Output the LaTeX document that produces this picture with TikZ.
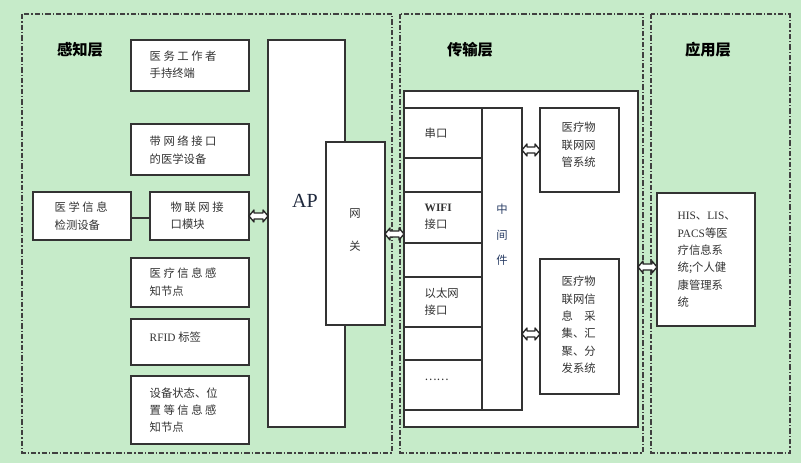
\documentclass[tikz,border=0pt]{standalone}
\usepackage{fontspec}
\setmainfont{Liberation Serif}
\newfontfamily\cjk{Noto Sans CJK SC}
\usetikzlibrary{arrows.meta}
\newcommand\myDArrow[3]{%
  \draw[dblarrow] (#1,#3) -- (#1+5,#3-6) -- (#1+5,#3-3) -- (#2-5,#3-3) -- (#2-5,#3-6) -- (#2,#3)
    -- (#2-5,#3+6) -- (#2-5,#3+3) -- (#1+5,#3+3) -- (#1+5,#3+6) -- cycle;}
\begin{document}
\begin{tikzpicture}[x=0.75pt,y=-0.75pt,
  layer/.style={draw=black!75,line width=1pt,dash pattern=on 4pt off 1.5pt on 1pt off 1.5pt},
  box/.style={draw=black!80,fill=white,line width=1pt},
  txt/.style={font=\cjk\fontsize{8.5}{13}\selectfont,align=left,text=black!80},
  ttl/.style={font=\cjk\bfseries\fontsize{11.5}{13}\selectfont},
  dblarrow/.style={draw=black!85,fill=white,line width=1pt,line join=round}]
\useasboundingbox (0,0) rectangle (801,463);
\fill[fill={rgb,255:red,198;green,235;blue,201}] (0,0) rectangle (801,463);
\draw[layer] (22,14) rectangle (392,453);
\draw[layer] (400,14) rectangle (643,453);
\draw[layer] (651,14) rectangle (790,453);
\node[ttl] (t1) at (80,50) {感知层};
\node[ttl] (t2) at (470,50) {传输层};
\node[ttl] (t3) at (708,50) {应用层};
% left
\draw[box] (131,40) rectangle (249,91);
\node[txt,anchor=west] (b1) at (145,65) {医 务 工 作 者\\手持终端};
\draw[box] (131,124) rectangle (249,175);
\node[txt,anchor=west] (b2) at (145,150) {带 网 络 接 口\\的医学设备};
\draw[box] (33,192) rectangle (131,240);
\node[txt,anchor=west] (b3) at (50,216) {医 学 信 息\\检测设备};
\draw[box] (150,192) rectangle (249,240);
\node[txt,anchor=west] (b4) at (166,216) {物 联 网 接\\口模块};
\draw[black!80,line width=1pt] (131,218) -- (150,218);
\draw[box] (131,258) rectangle (249,307);
\node[txt,anchor=west] (b5) at (145,282) {医 疗 信 息 感\\知节点};
\draw[box] (131,319) rectangle (249,365);
\node[txt,anchor=west] (b6) at (145,337) {\fontspec{Liberation Serif}RFID {\cjk 标签}};
\draw[box] (131,376) rectangle (249,444);
\node[txt,anchor=west] (b7) at (145,410) {设备状态、位\\置 等 信 息 感\\知节点};
\draw[box] (268,40) rectangle (345,427);
\node[font=\fontsize{15}{15}\selectfont,text={rgb,255:red,30;green,40;blue,60}] (ap) at (305,201) {AP};
\draw[box] (326,142) rectangle (385,325);
\node[txt] (gw) at (355,230) {网\\[12pt]关};
\myDArrow{249}{268}{216}
\myDArrow{385}{404}{234}
% transmission
\draw[box] (404,91) rectangle (638,427);
\draw[box] (404,108) rectangle (482,410);
\foreach \y in {158,192,243,277,327,360} \draw[black!80,line width=1pt] (404,\y) -- (482,\y);
\node[txt,anchor=west] (s1) at (420,133) {串口};
\node[txt,anchor=west] (s2) at (420,217) {\fontspec{Liberation Serif}\bfseries WIFI\\接口};
\node[txt,anchor=west] (s3) at (420,302) {以太网\\接口};
\node[txt,anchor=west] (s4) at (420,380) {……};
\draw[box] (482,108) rectangle (522,410);
\node[txt,align=center,text={rgb,255:red,40;green,60;blue,100}] (mw) at (502,235) {中\\[6pt]间\\[6pt]件};
\draw[box] (540,108) rectangle (619,192);
\node[txt,anchor=west] (r1) at (557,145) {医疗物\\联网网\\管系统};
\draw[box] (540,259) rectangle (619,394);
\node[txt,anchor=west] (r2) at (557,325) {医疗物\\联网信\\息　采\\集、汇\\聚、分\\发系统};
\myDArrow{522}{540}{150}
\myDArrow{522}{540}{334}
% application
\myDArrow{638}{657}{267}
\draw[box] (657,193) rectangle (755,326);
\node[txt,anchor=west] (a1) at (673,260) {\fontspec{Liberation Serif}HIS{\cjk 、}LIS{\cjk 、}\\\fontspec{Liberation Serif}PACS{\cjk 等医}\\疗信息系\\统;个人健\\康管理系\\统};
\end{tikzpicture}
\end{document}
